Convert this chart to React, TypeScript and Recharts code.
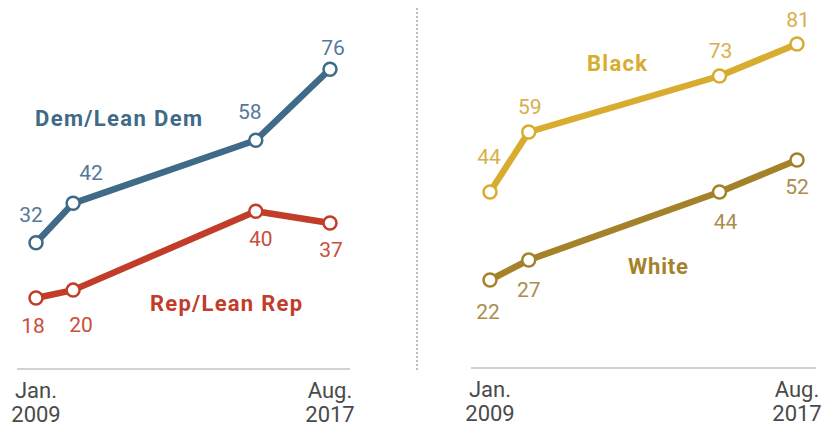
import React from 'react';
import { LineChart, Line, XAxis, YAxis, LabelList } from 'recharts';

// Survey dates as months since Jan. 2009
const MONTHS = [0, 13, 77, 103];
const DEM = [32, 42, 58, 76];
const REP = [18, 20, 40, 37];
const BLACK = [44, 59, 73, 81];
const WHITE = [22, 27, 44, 52];
const TICKS = [0, 103];
const TICK_LABELS: Record<number, string[]> = {
  0: ['Jan.', '2009'],
  103: ['Aug.', '2017'],
};

const FONT = 'Roboto, "Liberation Sans", sans-serif';

const BLUE = '#3f6a88';
const RED = '#c13d2a';
const GOLD = '#d8ad2f';
const DARK_GOLD = '#a4822a';

// label offsets (dx, dy) from each point
const DEM_OFF = [[-5, -21], [18, -23], [-6, -21], [3, -14]];
const REP_OFF = [[-3, 35], [8, 42], [5, 35], [1, 34]];
const BLACK_OFF = [[-1, -28], [1, -18], [1, -18], [1, -17]];
const WHITE_OFF = [[-2, 39], [0, 37], [6, 37], [0, 34]];

const partyData = MONTHS.map((m, i) => ({ m, dem: DEM[i], rep: REP[i] }));
const raceData = MONTHS.map((m, i) => ({ m, black: BLACK[i], white: WHITE[i] }));

const DateTick = ({ x, y, payload }: any) => {
  const lines = TICK_LABELS[payload.value] || ['', ''];
  return (
    <text x={x} y={y} textAnchor="middle" fill="#4a4a4a" fontSize={22} fontFamily={FONT}>
      <tspan x={x} dy={29}>{lines[0]}</tspan>
      <tspan x={x} dy={24}>{lines[1]}</tspan>
    </text>
  );
};

const makeLabel = (offsets: number[][], color: string) => (props: any) => {
  const { x, y, value, index } = props;
  const [dx, dy] = offsets[index] || [0, 0];
  return (
    <text x={x + dx} y={y + dy} textAnchor="middle" fill={color} fontSize={21} fontFamily={FONT}>
      {value}
    </text>
  );
};

const dotStyle = (color: string) => ({ r: 6.5, fill: '#fff', stroke: color, strokeWidth: 2.5 });

const Panel = ({ data, series, margin, padding }: any) => (
  <LineChart width={410} height={432} data={data} margin={margin}>
    <XAxis
      type="number"
      dataKey="m"
      domain={[0, 103]}
      ticks={TICKS}
      tick={<DateTick />}
      tickLine={false}
      tickSize={0}
      tickMargin={0}
      height={30}
      axisLine={{ stroke: '#d2d2d2', strokeWidth: 2 }}
      padding={padding}
      interval={0}
    />
    <YAxis hide type="number" domain={[0, 90]} />
    {series.map((s: any) => (
      <Line
        key={s.key}
        dataKey={s.key}
        stroke={s.color}
        strokeWidth={6.5}
        strokeLinejoin="round"
        dot={dotStyle(s.color)}
        activeDot={false}
        isAnimationActive={false}
      >
        <LabelList dataKey={s.key} content={makeLabel(s.offsets, s.labelColor)} />
      </Line>
    ))}
  </LineChart>
);

const names = [
  { text: 'Dem/Lean Dem', x: 35, y: 126, w: 167, color: BLUE },
  { text: 'Rep/Lean Rep', x: 150, y: 311, w: 152, color: RED },
  { text: 'Black', x: 587, y: 71, w: 60, color: GOLD },
  { text: 'White', x: 628, y: 274, w: 60, color: DARK_GOLD },
];

export default function App() {
  return (
    <div style={{ position: 'absolute', left: 0, top: 0, width: 825, height: 432, background: '#fff' }}>
      <div style={{ position: 'absolute', left: 0, top: 0 }}>
        <Panel
          data={partyData}
          margin={{ top: 14, right: 60, bottom: 33, left: 17 }}
          padding={{ left: 19, right: 20 }}
          series={[
            { key: 'dem', color: BLUE, labelColor: '#55799a', offsets: DEM_OFF },
            { key: 'rep', color: RED, labelColor: '#c84f3d', offsets: REP_OFF },
          ]}
        />
      </div>
      <div style={{ position: 'absolute', left: 420, top: 0 }}>
        <Panel
          data={raceData}
          margin={{ top: 8, right: 14, bottom: 34, left: 51 }}
          padding={{ left: 19, right: 19 }}
          series={[
            { key: 'black', color: GOLD, labelColor: '#d6b04a', offsets: BLACK_OFF },
            { key: 'white', color: DARK_GOLD, labelColor: '#a98e4c', offsets: WHITE_OFF },
          ]}
        />
      </div>
      <div
        style={{
          position: 'absolute',
          left: 416,
          top: 8,
          height: 362,
          borderLeft: '2px dotted #bdbdbd',
        }}
      />
      <svg
        width={825}
        height={432}
        style={{ position: 'absolute', left: 0, top: 0, pointerEvents: 'none' }}
      >
        {names.map((n) => (
          <text
            key={n.text}
            x={n.x}
            y={n.y}
            textLength={n.w}
            fill={n.color}
            fontSize={22}
            fontWeight="bold"
            fontFamily={FONT}
          >
            {n.text}
          </text>
        ))}
      </svg>
    </div>
  );
}
